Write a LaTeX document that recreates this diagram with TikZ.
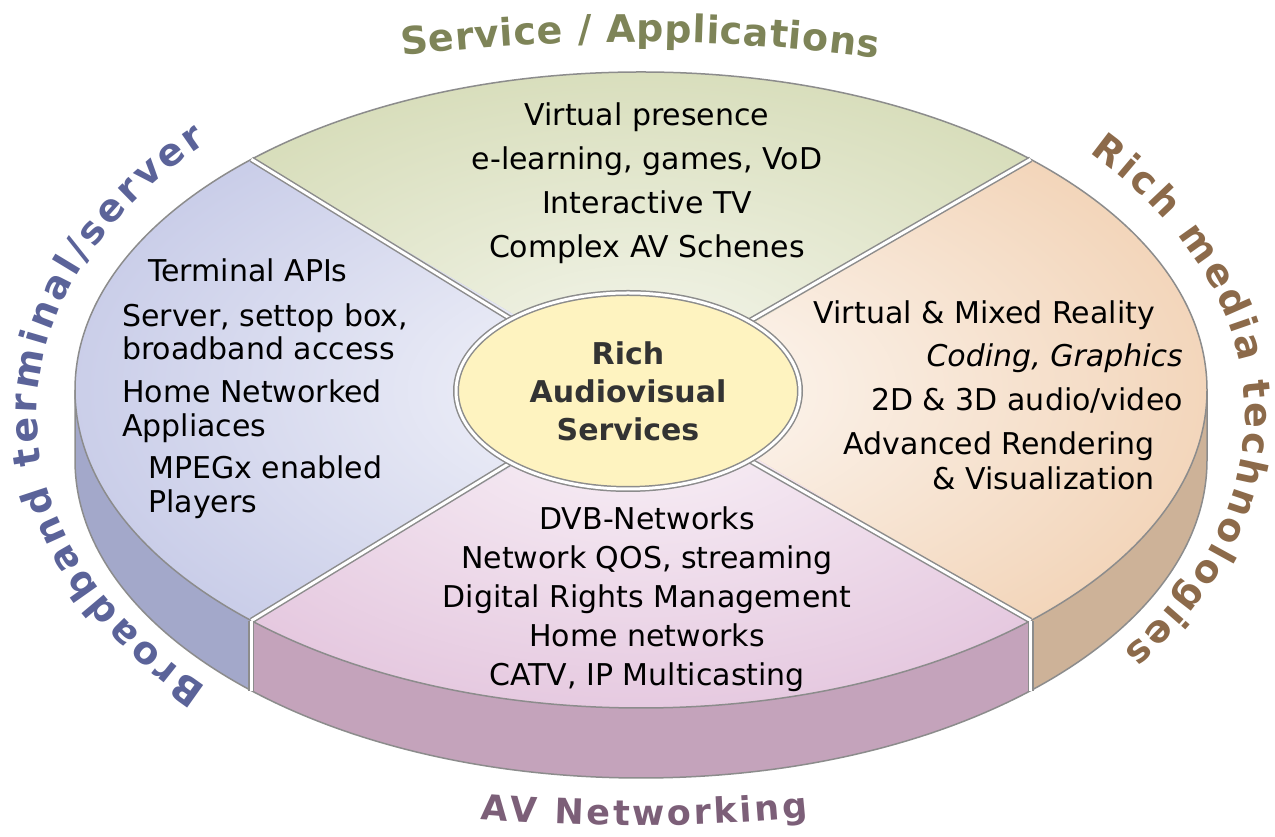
\documentclass[tikz,border=0pt]{standalone}
\usepackage{fontspec}
\newfontfamily\dejavu{DejaVu Sans}
\usetikzlibrary{positioning,shapes.geometric,calc,decorations.text}

\definecolor{rimgray}{RGB}{140,140,140}
\definecolor{svcgreen}{RGB}{214,220,184}
\definecolor{termblue}{RGB}{200,204,232}
\definecolor{techpeach}{RGB}{242,212,184}
\definecolor{netpink}{RGB}{228,198,222}
\definecolor{wallblue}{RGB}{163,168,202}
\definecolor{wallpink}{RGB}{196,163,187}
\definecolor{walltan}{RGB}{205,178,152}
\definecolor{coreyellow}{RGB}{254,243,192}
\definecolor{labgreen}{RGB}{126,132,88}
\definecolor{labbrown}{RGB}{140,106,74}
\definecolor{labmauve}{RGB}{124,95,120}
\definecolor{labblue}{RGB}{91,99,153}
\newcommand\lblfont{\dejavu\bfseries\fontsize{38}{40}\selectfont}
\newcommand\lblsmall{\dejavu\bfseries\fontsize{35}{40}\selectfont}

\begin{document}
\begin{tikzpicture}[x=1pt,y=1pt,
	rim/.style={draw=rimgray, line width=1.5pt},
	split/.style={draw=rimgray, line width=1.5pt, double=white, double distance=3pt},
	txt/.style={font=\dejavu\fontsize{30}{36}\selectfont, inner sep=0pt, text height=22pt, text depth=6pt},
	label/.style={decorate, decoration={text along path, text align=fit to path, text color=#1}}]
	\fill[white] (0,0) rectangle (1275,837);
	\useasboundingbox (0,0) rectangle (1275,837);
	\coordinate (dc) at (641,447);
	\coordinate (lc) at (641,422);
	\coordinate (w) at ($(dc)+(180:566 and 318)$);
	\coordinate (p1) at ($(dc)+(46.5:566 and 318)$);
	\coordinate (p2) at ($(dc)+(133.5:566 and 318)$);
	\coordinate (p3) at ($(dc)+(226.5:566 and 318)$);
	\coordinate (p4) at ($(dc)+(313.5:566 and 318)$);
	\coordinate (p3b) at ($(p3)+(0,-70)$);
	\coordinate (p4b) at ($(p4)+(0,-70)$);
	%%%%%%%%%% walls
	\fill[wallblue] (w) arc[start angle=180, end angle=226.5, x radius=566, y radius=318]
		-- (p3b) arc[start angle=226.5, end angle=180, x radius=566, y radius=318] -- cycle;
	\fill[wallpink] (p3) arc[start angle=226.5, end angle=313.5, x radius=566, y radius=318]
		-- (p4b) arc[start angle=313.5, end angle=226.5, x radius=566, y radius=318] -- cycle;
	\fill[walltan] (p4) arc[start angle=313.5, end angle=360, x radius=566, y radius=318]
		-- ++(0,-70) arc[start angle=360, end angle=313.5, x radius=566, y radius=318] -- cycle;
	\draw[rim] (w) -- ++(0,-70) arc[start angle=180, end angle=360, x radius=566, y radius=318] -- ++(0,70);
	%%%%%%%%%% top face
	\path[fill=svcgreen, path picture={\shade[inner color=svcgreen!25, outer color=svcgreen] (dc) ellipse[x radius=566, y radius=318];}]
		(dc) -- (p1) arc[start angle=46.5, end angle=133.5, x radius=566, y radius=318] -- cycle;
	\path[fill=termblue, path picture={\shade[inner color=termblue!20, outer color=termblue] (dc) ellipse[x radius=566, y radius=318];}]
		(dc) -- (p2) arc[start angle=133.5, end angle=226.5, x radius=566, y radius=318] -- cycle;
	\path[fill=netpink, path picture={\shade[inner color=netpink!20, outer color=netpink] (dc) ellipse[x radius=566, y radius=318];}]
		(dc) -- (p3) arc[start angle=226.5, end angle=313.5, x radius=566, y radius=318] -- cycle;
	\path[fill=techpeach, path picture={\shade[inner color=techpeach!15, outer color=techpeach] (dc) ellipse[x radius=566, y radius=318];}]
		(dc) -- (p4) arc[start angle=313.5, end angle=406.5, x radius=566, y radius=318] -- cycle;
	\draw[rim] (dc) ellipse[x radius=566, y radius=318];
	%%%%%%%%%% core
	\node[ellipse, fill=coreyellow, minimum width=344pt, minimum height=196pt, inner sep=0pt,
		align=center, text=black!80, font=\dejavu\bfseries\fontsize{30}{38}\selectfont] (core) at (628,446)
		{Rich\\Audiovisual\\Services};
	\draw[split] (p1) -- (core);
	\draw[split] (p2) -- (core);
	\draw[split] (p3) -- (core);
	\draw[split] (p4) -- (core);
	\draw[split] (p3) -- (p3b);
	\draw[split] (p4) -- (p4b);
	\draw[split] (core.center) ellipse[x radius=172, y radius=98];
	%%%%%%%%%% service / applications
	\node[txt, anchor=base] (sv1) at (647,711) {Virtual presence};
	\node[txt, below=15.5pt of sv1] (sv2) {e-learning, games, VoD};
	\node[txt, below=15.5pt of sv2] (sv3) {Interactive TV};
	\node[txt, below=15.5pt of sv3] (sv4) {Complex AV Schenes};
	%%%%%%%%%% terminal / server
	\node[txt, anchor=base west] (bt1) at (148,555) {Terminal APIs};
	\node[txt, anchor=base west] (bt2) at (122,510) {Server, settop box,};
	\node[txt, below=4pt of bt2.south west, anchor=north west] (bt3) {broadband access};
	\node[txt, anchor=base west] (bt4) at (122,434) {Home Networked};
	\node[txt, below=5pt of bt4.south west, anchor=north west] (bt5) {Appliaces};
	\node[txt, anchor=base west] (bt6) at (148,358) {MPEGx enabled};
	\node[txt, below=5pt of bt6.south west, anchor=north west] (bt7) {Players};
	%%%%%%%%%% rich media
	\node[txt, anchor=base east] (rm1) at (1155,513) {Virtual \& Mixed Reality};
	\node[txt, anchor=base east] (rm2) at (1183,470) {\itshape Coding, Graphics};
	\node[txt, anchor=base east] (rm3) at (1183,426) {2D \& 3D audio/video};
	\node[txt, anchor=base east] (rm4) at (1155,382) {Advanced Rendering};
	\node[txt, below=6pt of rm4.south east, anchor=north east] (rm5) {\& Visualization};
	%%%%%%%%%% av networking
	\node[txt, anchor=base] (av1) at (647,307) {DVB-Networks};
	\node[txt, below=10.5pt of av1] (av2) {Network QOS, streaming};
	\node[txt, below=10.5pt of av2] (av3) {Digital Rights Management};
	\node[txt, below=10.5pt of av3] (av4) {Home networks};
	\node[txt, below=10.5pt of av4] (av5) {CATV, IP Multicasting};
	%%%%%%%%%% ring labels
	\path[label=labgreen, decoration={text={|\lblfont|Service / Applications}}]
		(402,781) .. controls (560,800) and (720,800) .. (878,779);
	\path[label=labblue, decoration={text={|\lblfont|Broadband terminal/server}}]
		($(lc)+(224:604 and 392)$) arc[start angle=224, end angle=136, x radius=604, y radius=392];
	\path[label=labbrown, decoration={text={|\lblfont|Rich media technologies}}]
		($(lc)+(42:604 and 392)$) arc[start angle=42, end angle=-37, x radius=604, y radius=392];
	\path[label=labmauve, decoration={text={|\lblsmall|AV Networking}}]
		(480,18) .. controls (590,9) and (700,9) .. (808,20);
\end{tikzpicture}
\end{document}
